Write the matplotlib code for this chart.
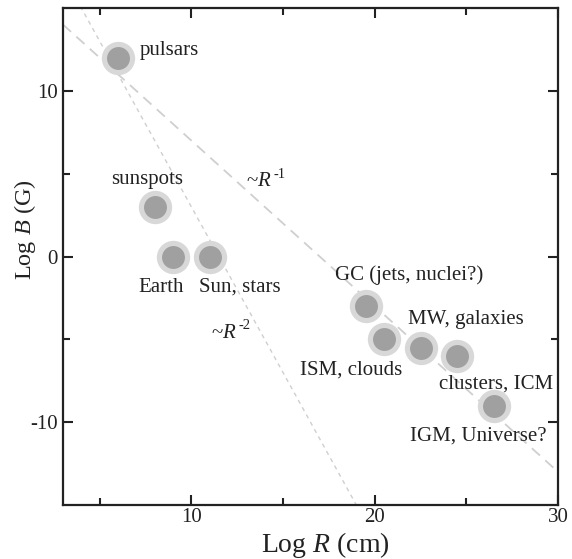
import numpy as np
import matplotlib
matplotlib.use("Agg")
import matplotlib.pyplot as plt

# magnetic field strength vs. size of astrophysical objects
names = ["pulsars", "sunspots", "Earth", "Sun, stars", "GC (jets, nuclei?)",
         "ISM, clouds", "MW, galaxies", "clusters, ICM", "IGM, Universe?"]
log_r = [6, 8, 9, 11, 19.5, 20.5, 22.5, 24.5, 26.5]
log_b = [12, 3, 0, 0, -3, -5, -5.5, -6, -9]

# label offsets (in data units) from each point
label_dx = [1.2, -0.4, -0.67, 1.67, 2.36, -1.8, 2.46, 2.14, -0.84]
label_dy = [0.45, 1.65, -1.85, -1.85, 1.9, -1.85, 1.7, -1.68, -1.82]
label_ha = ["left", "center", "center", "center", "center", "center", "center", "center", "center"]

# power-law guide lines: log B = c - n log R
guide_c = [17, 23]
guide_n = [1, 2]
guide_txt_x = [14.1, 12.2]
guide_txt_y = [4.5, -4.65]

plt.rcParams["font.family"] = ["Liberation Serif", "DejaVu Serif"]
plt.rcParams["mathtext.fontset"] = "custom"
plt.rcParams["mathtext.it"] = "Liberation Serif:italic"
plt.rcParams["mathtext.rm"] = "Liberation Serif"

ink = "#222222"

fig = plt.figure(figsize=(5.72, 5.59), dpi=100)
ax = fig.add_axes([63 / 572, 1 - 505 / 559, 495 / 572, 497 / 559])

xx = np.array([3, 30])
ax.plot(xx, guide_c[0] - guide_n[0] * xx, color="#cfcfcf", lw=1.3,
        dashes=(6, 4), zorder=1)
ax.plot(xx, guide_c[1] - guide_n[1] * xx, color="#cfcfcf", lw=1.0,
        dashes=(3, 3), zorder=1)

ax.plot(log_r, log_b, "o", ms=24, mfc="#d8d8d8", mec="none", zorder=2)
ax.plot(log_r, log_b, "o", ms=16.5, mfc="#a0a0a0", mec="none", zorder=3)

for name, x, y, dx, dy, ha in zip(names, log_r, log_b, label_dx, label_dy, label_ha):
    ax.text(x + dx, y + dy, name, ha=ha, va="center", fontsize=15, color=ink)

for n, tx, ty in zip(guide_n, guide_txt_x, guide_txt_y):
    t = ax.text(tx - 0.4, ty, r"~$R$", fontsize=15, ha="center", va="center", color=ink)
    ax.annotate("-%d" % n, xy=(1, 0.9), xycoords=t, xytext=(1, 0),
                textcoords="offset points", fontsize=10.5, ha="left", va="center",
                color=ink)

ax.set_xlim(3, 30)
ax.set_ylim(-15, 15)
ax.set_xticks([10, 20, 30])
ax.set_xticks([5, 15, 25], minor=True)
ax.set_yticks([-10, 0, 10])
ax.set_yticks([-5, 5], minor=True)
ax.tick_params(which="both", direction="in", top=True, right=True,
               width=1.5, labelsize=15, colors=ink)
ax.tick_params(which="major", length=7)
ax.tick_params(which="minor", length=5)
ax.tick_params(axis="x", pad=2.5)
ax.tick_params(axis="y", pad=4)
ax.set_yticklabels(["-10", "0", "10"])
for s in ax.spines.values():
    s.set_linewidth(1.6)
    s.set_color(ink)

ax.set_xlabel(r"Log $R$ (cm)", fontsize=20, color=ink, va="center")
ax.set_ylabel(r"Log $B$ (G)", fontsize=17.5, color=ink, va="center")
ax.xaxis.set_label_coords(0.53, -0.08)
ax.yaxis.set_label_coords(-0.077, 0.553)

fig.savefig("out.png", dpi=100)
